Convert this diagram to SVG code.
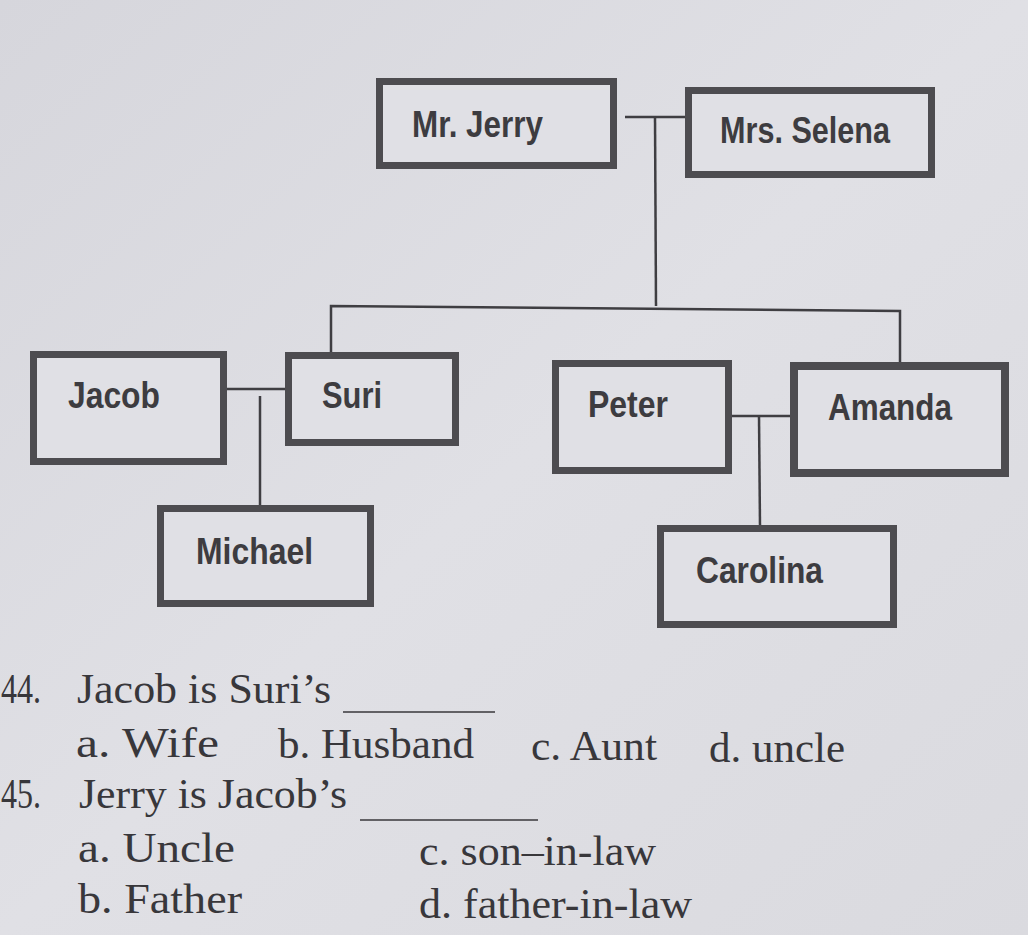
<svg xmlns="http://www.w3.org/2000/svg" width="1028" height="935" viewBox="0 0 1028 935">
<defs>
<linearGradient id="bg" x1="0" y1="0" x2="1" y2="1">
<stop offset="0" stop-color="#d6d6dc"/>
<stop offset="0.5" stop-color="#e0e0e5"/>
<stop offset="1" stop-color="#dadadf"/>
</linearGradient>
<style>
.box{fill:#e0e0e5;stroke:#4d4c50;stroke-width:7}
.lbl{font-family:"Liberation Sans",Arial,sans-serif;font-weight:bold;font-size:37px;fill:#3d3c40}
.ln{fill:none;stroke:#3f3e42;stroke-width:2.5}
.q{font-family:"Liberation Serif","Times New Roman",serif;font-size:43px;fill:#38373b}
.blank{stroke:#38373b;stroke-width:1.6}
</style>
</defs>
<rect width="1028" height="935" fill="url(#bg)"/>
<g id="connectors">
<polyline class="ln" points="625,117 685,117"/>
<polyline class="ln" points="655,117 656,306"/>
<polyline class="ln" points="331,354 331,306 900,311 900,362"/>
<polyline class="ln" points="226,389 286,389"/>
<polyline class="ln" points="260,396 260,506"/>
<polyline class="ln" points="731,416 791,416"/>
<polyline class="ln" points="759,416 760,526"/>
</g>
<g id="mr-jerry"><rect class="box" x="379.5" y="81.5" width="234" height="84"/><text class="lbl" x="412" y="137" textLength="131" lengthAdjust="spacingAndGlyphs">Mr. Jerry</text></g>
<g id="mrs-selena"><rect class="box" x="688.5" y="90.5" width="243" height="84"/><text class="lbl" x="720" y="143" textLength="170" lengthAdjust="spacingAndGlyphs">Mrs. Selena</text></g>
<g id="jacob"><rect class="box" x="33.5" y="354.5" width="190" height="107"/><text class="lbl" x="68" y="408" textLength="92" lengthAdjust="spacingAndGlyphs">Jacob</text></g>
<g id="suri"><rect class="box" x="288.5" y="355.5" width="167" height="87"/><text class="lbl" x="322" y="408" textLength="60" lengthAdjust="spacingAndGlyphs">Suri</text></g>
<g id="michael"><rect class="box" x="160.5" y="508.5" width="210" height="95"/><text class="lbl" x="196" y="564" textLength="117" lengthAdjust="spacingAndGlyphs">Michael</text></g>
<g id="peter"><rect class="box" x="555.5" y="363.5" width="173" height="107"/><text class="lbl" x="588" y="417" textLength="80" lengthAdjust="spacingAndGlyphs">Peter</text></g>
<g id="amanda"><rect class="box" x="794" y="366" width="211" height="107" style="stroke-width:8"/><text class="lbl" x="828" y="420" textLength="124" lengthAdjust="spacingAndGlyphs">Amanda</text></g>
<g id="carolina"><rect class="box" x="660.5" y="528.5" width="233" height="96"/><text class="lbl" x="696" y="583" textLength="127" lengthAdjust="spacingAndGlyphs">Carolina</text></g>
<g id="questions">
<text class="q" x="1" y="703" textLength="40" lengthAdjust="spacingAndGlyphs">44.</text>
<text class="q" x="77" y="703" textLength="254" lengthAdjust="spacingAndGlyphs">Jacob is Suri’s</text>
<line class="blank" x1="343" y1="712" x2="495" y2="712"/>
<text class="q" x="76" y="757" textLength="143" lengthAdjust="spacingAndGlyphs">a.  Wife</text>
<text class="q" x="278" y="758" textLength="196" lengthAdjust="spacingAndGlyphs">b. Husband</text>
<text class="q" x="531" y="760" textLength="126" lengthAdjust="spacingAndGlyphs">c. Aunt</text>
<text class="q" x="709" y="762" textLength="136" lengthAdjust="spacingAndGlyphs">d. uncle</text>
<text class="q" x="1" y="808" textLength="40" lengthAdjust="spacingAndGlyphs">45.</text>
<text class="q" x="79" y="808" textLength="268" lengthAdjust="spacingAndGlyphs">Jerry is Jacob’s</text>
<line class="blank" x1="360" y1="820" x2="538" y2="820"/>
<text class="q" x="78" y="862" textLength="157" lengthAdjust="spacingAndGlyphs">a.  Uncle</text>
<text class="q" x="419" y="865" textLength="237" lengthAdjust="spacingAndGlyphs">c. son–in-law</text>
<text class="q" x="78" y="913" textLength="164" lengthAdjust="spacingAndGlyphs">b.  Father</text>
<text class="q" x="419" y="918" textLength="273" lengthAdjust="spacingAndGlyphs">d. father-in-law</text>
</g>
</svg>
